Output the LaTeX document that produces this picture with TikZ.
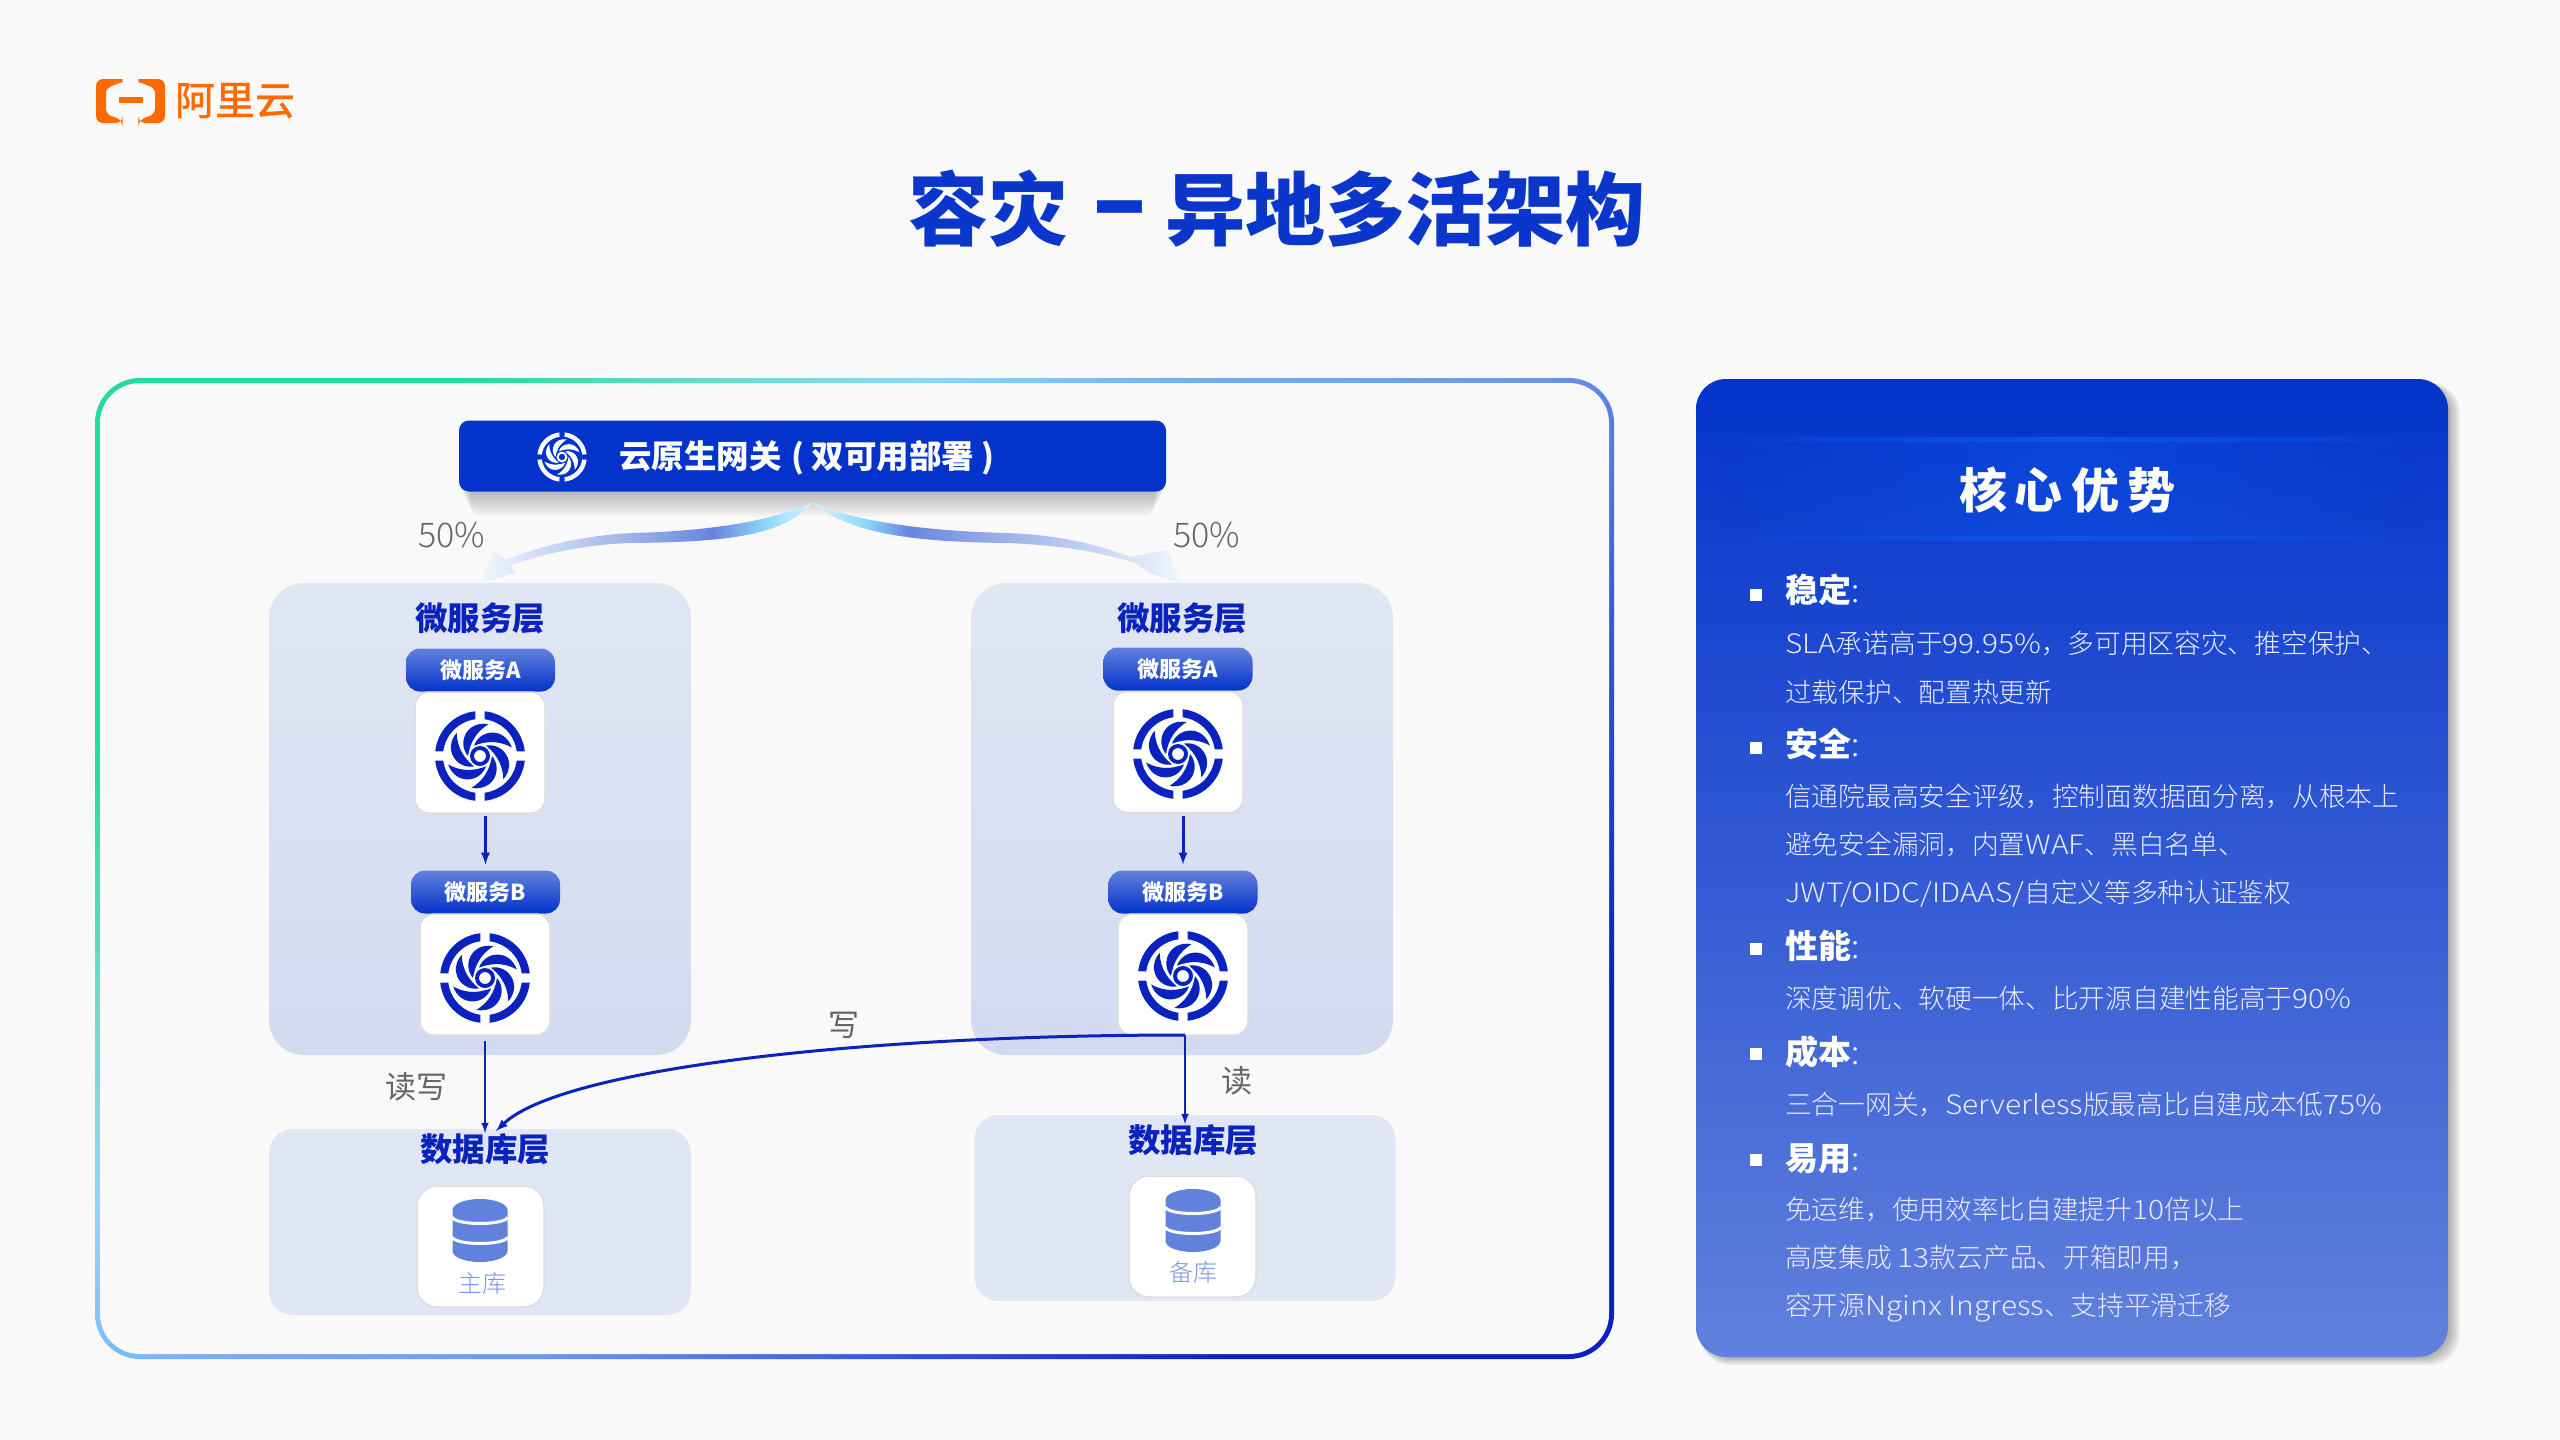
\documentclass[tikz,border=0pt]{standalone}
\usepackage{fontspec}
\setmainfont{Noto Sans CJK SC}
\newfontfamily\lightfont{Noto Sans CJK SC Light}
\newfontfamily\mediumfont{Noto Sans CJK SC Medium}
\newfontfamily\lightwide[FakeStretch=1.12]{Noto Sans CJK SC Light}
\newcommand{\wl}[1]{{\lightwide #1}}
\usetikzlibrary{calc}
\usetikzlibrary{arrows}
\usetikzlibrary{fadings}

\definecolor{pagebg}{HTML}{F9F9F9}
\definecolor{logoorange}{HTML}{FF6A00}
\definecolor{titleblue}{HTML}{0A36CC}
\definecolor{gatewayblue}{HTML}{0333CB}
\definecolor{deepblue}{HTML}{0A22BE}
\definecolor{softblue}{HTML}{6281DD}
\definecolor{paneltop}{HTML}{E1E6F4}
\definecolor{panelbottom}{HTML}{D3DAF0}
\definecolor{labelgrey}{HTML}{666666}
\definecolor{dblabel}{HTML}{7B96E8}
\definecolor{bandblue}{HTML}{0A55EA}
\definecolor{gA}{HTML}{22DD99}
\definecolor{gB}{HTML}{6ADCC8}
\definecolor{gC}{HTML}{8ED7FA}
\definecolor{gG}{HTML}{78AFF2}
\definecolor{gD}{HTML}{6E98EA}
\definecolor{gE}{HTML}{3555DC}
\definecolor{gF}{HTML}{0A20C0}
\definecolor{flowA}{HTML}{F1F6FE}
\definecolor{flowB}{HTML}{D9E2F8}
\definecolor{flowC}{HTML}{A0B4EA}
\definecolor{flowD}{HTML}{6885E0}
\definecolor{flowE}{HTML}{8FD8FB}
\definecolor{flowF}{HTML}{DDF2FF}

\pgfdeclareverticalshading{framegrad}{100bp}{color(0bp)=(gF); color(25bp)=(gF); color(35bp)=(gE); color(45bp)=(gD); color(55bp)=(gG); color(62bp)=(gC); color(68bp)=(gB); color(75bp)=(gA); color(100bp)=(gA)}
\pgfdeclarehorizontalshading{flowleft}{100bp}{color(0bp)=(flowA); color(25bp)=(flowA); color(32bp)=(flowB); color(47bp)=(flowC); color(60bp)=(flowD); color(68bp)=(flowE); color(75bp)=(flowF); color(100bp)=(flowF)}
\pgfdeclarehorizontalshading{flowright}{100bp}{color(0bp)=(flowF); color(25bp)=(flowF); color(32bp)=(flowE); color(38bp)=(flowD); color(52bp)=(flowC); color(68bp)=(flowB); color(75bp)=(flowA); color(100bp)=(flowA)}
\tikzfading[name=bandfade, left color=transparent!100, right color=transparent!100, middle color=transparent!0]

\tikzset{
  swirl/.pic={
    \begin{scope}[y=1pt]
      \foreach \a in {0,90,180,270} {
        \fill[rotate=\a] (6:45) arc (6:84:45) -- (83:37) arc (83:7:37) -- cycle;
      }
      \foreach \a in {0,60,...,300} {
        \fill[rotate=\a] (0:12) .. controls (-30:27) and (-70:38) .. (-105:33) .. controls (-70:23) and (-35:13) .. (0:12) -- cycle;
      }
      \fill[even odd rule] (0,0) circle (10) (0,0) circle (6);
    \end{scope}
  },
  dbstack/.pic={
    \begin{scope}[y=1pt]
      \fill[softblue] (-27.5,20.5) arc (180:0:27.5 and 11) -- (27.5,-20.5) arc (0:-180:27.5 and 11) -- cycle;
      \draw[white, line width=3pt] (-27.5,13.5) arc (180:360:27.5 and 6.5);
      \draw[white, line width=3pt] (-27.5,-6.5) arc (180:360:27.5 and 6.5);
    \end{scope}
  },
  svcpanel/.style={inner sep=0pt, outer sep=0pt, rounded corners=35pt, top color=paneltop, bottom color=panelbottom},
  dbpanel/.style={inner sep=0pt, outer sep=0pt, rounded corners=24pt, fill=paneltop},
  pillbox/.style={inner sep=0pt, outer sep=0pt, rounded corners=14pt, top color=softblue, bottom color=gatewayblue, text=white, font=\fontsize{22}{24}\selectfont\bfseries, minimum width=149pt, minimum height=43pt},
  iconbox/.style={inner sep=0pt, outer sep=0pt, rounded corners=14pt, fill=white, draw=black!13, line width=1.5pt},
  layertitle/.style={inner sep=0pt, text=deepblue, font=\fontsize{32.5}{36}\selectfont\bfseries},
  flowlabel/.style={inner sep=0pt, text=labelgrey, font=\fontsize{31}{34}\selectfont},
  dbname/.style={inner sep=0pt, text=dblabel, font=\lightfont\fontsize{24}{26}\selectfont},
  flowarrow/.style={-latex, deepblue, line width=2.5pt},
  headline/.style={anchor=west, inner sep=0pt, text=white, text height=25pt, text depth=5pt, font=\fontsize{33}{36}\selectfont},
  bodyline/.style={anchor=west, inner sep=0pt, text=white!92!blue, text height=23.5pt, text depth=3pt, font=\lightfont\fontsize{26.7}{30}\selectfont},
  bulletmark/.style={inner sep=0pt, minimum size=12pt, fill=white},
}

\begin{document}
\begin{tikzpicture}[x=1pt,y=-1pt]
  \useasboundingbox (0,0) rectangle (2560,1440);
  \fill[pagebg] (0,0) rectangle (2560,1440);

  % logo
  \fill[logoorange, rounded corners=7pt] (122.6,79) -- (96,79) -- (96,123) -- (122.6,123) -- (122.6,120) [sharp corners] -- (110,115.5) [rounded corners=3pt] -- (106,112) -- (106,90) -- (110,86.5) [sharp corners] -- (122.6,82) -- cycle;
  \fill[logoorange, rounded corners=7pt] (138.4,79) -- (165,79) -- (165,123) -- (138.4,123) -- (138.4,120) [sharp corners] -- (151,115.5) [rounded corners=3pt] -- (155,112) -- (155,90) -- (151,86.5) [sharp corners] -- (138.4,82) -- cycle;
  \fill[logoorange] (119,97) rectangle (143,103);
  \node[inner sep=0pt, anchor=west, text=logoorange, font=\mediumfont\fontsize{40}{42}\selectfont] (logotext) at (175,101) {阿里云};

  \node[inner sep=0pt, anchor=west, text=titleblue, font=\fontsize{80}{90}\selectfont\bfseries] (pagetitle) at (908,209) {容灾\hspace{24pt}\scalebox{1.25}[1.4]{–}\hspace{18pt}异地多活架构};

  % left frame
  \shade[rounded corners=45pt, shading=framegrad, shading angle=45] (95,378) rectangle (1614,1359);
  \fill[pagebg, rounded corners=40pt] (100,383) rectangle (1609,1354);

  % gateway
  \foreach \d in {3,6,...,24} {
    \fill[black, opacity=.03, rounded corners=10pt] ({459+\d/2},430) rectangle ({1166-\d/2},{492+\d});
  }
  \node[inner sep=0pt, outer sep=0pt, rounded corners=10pt, fill=gatewayblue, minimum width=707pt, minimum height=71pt] (gateway) at (812.5,456) {};
  \pic[color=white, scale=.55] (gatewayicon) at (562,457) {swirl};
  \node[inner sep=0pt, anchor=west, text=white, font=\fontsize{32.5}{36}\selectfont\bfseries] (gatewaytext) at (619,458) {云原生网关\hspace{10pt}(\hspace{7pt}双可用部署\hspace{7pt})};

  % service panels
  \node[svcpanel, minimum width=422pt, minimum height=472pt] (svcpanelL) at (480,819) {};
  \node[svcpanel, minimum width=422pt, minimum height=472pt] (svcpanelR) at (1182,819) {};
  \node[dbpanel, minimum width=422pt, minimum height=186pt] (dbpanelL) at (480,1222) {};
  \node[dbpanel, minimum width=421pt, minimum height=186pt] (dbpanelR) at (1185,1208) {};

  % split flows
  \coordinate (flowstart) at ([yshift=-11pt]gateway.south);
  \shade[shading=flowleft] (flowstart) .. controls (780,518) and (720,531) .. (632,533) .. controls (590,535) and (540,545) .. (506,560) -- (494,550) -- (svcpanelL.north) -- (514,573) -- (511,565) .. controls (550,552) and (590,544) .. (632,543) .. controls (730,542) and (785,535) .. (flowstart) -- cycle;
  \shade[shading=flowright] (flowstart) .. controls (850,520) and (920,531) .. (1007,533) .. controls (1060,535) and (1100,545) .. (1130,557) -- (1167,550) -- (svcpanelR.north) -- (1149,573) -- (1135,563) .. controls (1100,552) and (1060,545) .. (1007,543) .. controls (920,542) and (850,535) .. (flowstart) -- cycle;
  \node[flowlabel, font=\lightfont\fontsize{34}{38}\selectfont] (shareL) at (452,535) {50\%};
  \node[flowlabel, font=\lightfont\fontsize{34}{38}\selectfont] (shareR) at (1207,535) {50\%};

  % left column
  \node[layertitle] (titleL) at (480,618) {微服务层};
  \node[pillbox] (pillAL) at (480.5,670) {微服务A};
  \node[iconbox, minimum width=130pt, minimum height=121pt] (boxAL) at (480,752.5) {};
  \pic[color=deepblue] (iconAL) at (480,756) {swirl};
  \node[pillbox] (pillBL) at (485.5,892) {微服务B};
  \node[iconbox, minimum width=130pt, minimum height=121pt] (boxBL) at (485,974.5) {};
  \pic[color=deepblue] (iconBL) at (485,978) {swirl};

  % right column
  \node[layertitle] (titleR) at (1182,618) {微服务层};
  \node[pillbox] (pillAR) at (1178,669) {微服务A};
  \node[iconbox, minimum width=130pt, minimum height=121pt] (boxAR) at (1178,752) {};
  \pic[color=deepblue] (iconAR) at (1178,754) {swirl};
  \node[pillbox] (pillBR) at (1183,892) {微服务B};
  \node[iconbox, minimum width=130pt, minimum height=121pt] (boxBR) at (1183,974.5) {};
  \pic[color=deepblue] (iconBR) at (1183,976) {swirl};

  % databases
  \node[layertitle] (dbtitleL) at (485,1149) {数据库层};
  \node[iconbox, rounded corners=20pt, minimum width=127pt, minimum height=121pt] (dbboxL) at (480.5,1246.5) {};
  \pic (stackL) at (480,1230.5) {dbstack};
  \node[dbname] (dbnameL) at (482,1283) {主库};
  \node[layertitle] (dbtitleR) at (1193,1140) {数据库层};
  \node[iconbox, rounded corners=20pt, minimum width=127pt, minimum height=121pt] (dbboxR) at (1192.5,1236.5) {};
  \pic (stackR) at (1193,1220.5) {dbstack};
  \node[dbname] (dbnameR) at (1193,1272) {备库};

  % arrows
  \draw[flowarrow, line width=3pt, shorten <=3pt, shorten >=6pt] (boxAL.south -| pillBL.north) -- (pillBL.north);
  \draw[flowarrow, line width=3pt, shorten <=3pt, shorten >=6pt] (boxAR.south -| pillBR.north) -- (pillBR.north);
  \draw[flowarrow, shorten <=6pt] (boxBL.south) -- (boxBL.south |- dbtitleL.north);
  \coordinate (readstart) at ([xshift=2pt]boxBR.south);
  \draw[flowarrow] (readstart) -- (readstart |- dbtitleR.north);
  \coordinate (writeend) at (496,1131);
  \draw[flowarrow, line width=3pt] (readstart) .. controls (850,1035) and (560,1070) .. (writeend);
  \node[flowlabel] (rwlabel) at (416,1087) {读写};
  \node[flowlabel] (writelabel) at (844,1025) {写};
  \node[flowlabel] (readlabel) at (1237,1081) {读};

  % right panel
  \foreach \d in {2,4,...,12} {
    \fill[black, opacity=.05, rounded corners=30pt] (1700,383) rectangle ({2448+\d},{1357+\d/1.5});
  }
  \shade[rounded corners=30pt, top color=gatewayblue, bottom color=softblue] (1696,379) rectangle (2448,1357);
  \fill[bandblue, opacity=.45, path fading=bandfade] (1720,438) rectangle (2420,540);
  \fill[bandblue, path fading=bandfade] (1720,437) rectangle (2420,442);
  \fill[bandblue, path fading=bandfade] (1720,536) rectangle (2420,541);
  \node[inner sep=0pt, text=white, font=\fontsize{48}{52}\selectfont\bfseries] (advtitle) at (2067,490) {核\hspace{8pt}心\hspace{8pt}优\hspace{8pt}势};

  \node[bulletmark] (markA) at (1756,595) {};
  \node[headline] (headA) at (1785,592) {{\bfseries 稳定}\lightfont:};
  \node[bodyline] (lineA) at (1785,643) {\wl{SLA}承诺高于\wl{99.95\%}，多可用区容灾、推空保护、};
  \node[bodyline] (lineB) at (1785,692) {过载保护、配置热更新};
  \node[bulletmark] (markB) at (1756,748) {};
  \node[headline] (headB) at (1785,746) {{\bfseries 安全}\lightfont:};
  \node[bodyline] (lineC) at (1785,796) {信通院最高安全评级，控制面数据面分离，从根本上};
  \node[bodyline] (lineD) at (1785,844) {避免安全漏洞，内置\wl{WAF}、黑白名单、};
  \node[bodyline] (lineE) at (1785,892) {\wl{JWT/OIDC/IDAAS/}自定义等多种认证鉴权};
  \node[bulletmark] (markC) at (1756,949) {};
  \node[headline] (headC) at (1785,948) {{\bfseries 性能}\lightfont:};
  \node[bodyline] (lineF) at (1785,998) {深度调优、软硬一体、比开源自建性能高于\wl{90\%}};
  \node[bulletmark] (markD) at (1756,1054) {};
  \node[headline] (headD) at (1785,1054) {{\bfseries 成本}\lightfont:};
  \node[bodyline] (lineG) at (1785,1104) {三合一网关，\wl{Serverless}版最高比自建成本低\wl{75\%}};
  \node[bulletmark] (markE) at (1756,1160) {};
  \node[headline] (headE) at (1785,1160) {{\bfseries 易用}\lightfont:};
  \node[bodyline] (lineH) at (1785,1209) {免运维，使用效率比自建提升\wl{10}倍以上};
  \node[bodyline] (lineI) at (1785,1257) {高度集成 \wl{13}款云产品、开箱即用，};
  \node[bodyline] (lineJ) at (1785,1305) {容开源\wl{Nginx Ingress}、支持平滑迁移};
\end{tikzpicture}
\end{document}
